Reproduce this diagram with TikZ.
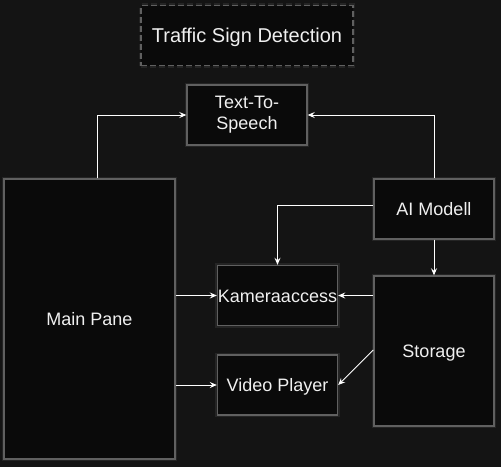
\documentclass[tikz,border=0pt]{standalone}
\usepackage{fontspec}
\setmainfont{Liberation Sans}
\usetikzlibrary{arrows.meta}
\definecolor{bgcol}{HTML}{141414}
\definecolor{boxfill}{HTML}{0A0A0A}
\definecolor{boxline}{HTML}{606060}
\definecolor{txtcol}{HTML}{F0F0F0}
\begin{document}
\begin{tikzpicture}[x=1pt,y=-1pt,
  block/.style={draw=boxline,fill=boxfill,line width=1.4pt,text=txtcol,
    preaction={draw=white,draw opacity=0.07,line width=4.5pt},
    inner sep=0pt,align=center,font=\fontsize{18}{21}\selectfont},
  oneline/.style={block,text height=13pt,text depth=0pt},
  titlebox/.style={block,dashed,dash pattern=on 6pt off 3pt,
    text height=14.5pt,text depth=0pt,font=\fontsize{20}{23}\selectfont},
  link/.style={draw=white,line width=0.9pt,-{Stealth[length=7pt,width=6pt,inset=2.5pt]}}]
 \fill[bgcol](0,0) rectangle (501,467);
 \useasboundingbox (0,0) rectangle (501,467);
 % boxes
 \node[titlebox,minimum width=212pt,minimum height=60pt] (title) at (247,35.5) {Traffic Sign Detection};
 \node[block,minimum width=120pt,minimum height=60pt] (tts) at (247,115) {Text-To-\\Speech};
 \node[oneline,minimum width=171pt,minimum height=280pt] (main) at (89.5,319) {Main Pane};
 \node[oneline,minimum width=120pt,minimum height=60pt] (ai) at (434,209) {AI Modell};
 \node[oneline,minimum width=120pt,minimum height=60pt] (kam) at (277.5,295.5) {Kameraaccess};
 \node[oneline,minimum width=120pt,minimum height=150pt] (sto) at (434,351) {Storage};
 \node[oneline,minimum width=120pt,minimum height=60pt] (vid) at (277.5,385) {Video Player};
 % connectors
 \draw[link] ([xshift=7.5pt]main.north) |- (tts.west);
 \draw[link] (ai.north) |- (tts.east);
 \draw[link] ([yshift=4pt]ai.west) -| (kam.north);
 \draw[link] (ai.south) -- (sto.north);
 \draw[link] (main.east |- kam.west) -- (kam.west);
 \draw[link] (sto.west |- kam.east) -- (kam.east);
 \draw[link] (main.east |- vid.west) -- (vid.west);
 \draw[link] ([yshift=1pt]sto.west) -- (vid.east);
\end{tikzpicture}
\end{document}
